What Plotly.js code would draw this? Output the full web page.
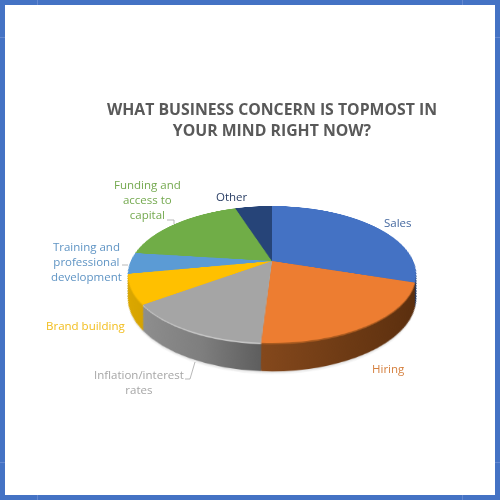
<!DOCTYPE html>
<html>
<head>
<meta charset="utf-8">
<script src="https://cdn.plot.ly/plotly-3.0.1.min.js"></script>
<style>
html,body{margin:0;padding:0;background:#fff;}
#frame{position:absolute;left:0;top:0;width:500px;height:500px;box-sizing:border-box;border:5px solid #4472c4;background:#fff;}
#chart{position:absolute;left:0;top:0;width:500px;height:500px;}
</style>
</head>
<body>
<div id="frame"></div>
<div id="chart"></div>
<script>
const categories = ['Sales','Hiring','Inflation/interest rates','Brand building','Training and professional development','Funding and access to capital','Other'];
const values = [30,21,14,7,5,18,5];
const topColors = ['#4472c4','#ed7d31','#a5a5a5','#ffc000','#5b9bd5','#70ad47','#264478'];
const rimColors = ['#2f5597','#a85a20','#c6c6c6','#e8b000','#5b9bd5','#70ad47','#264478'];
const sideColors = ['#1f3864','#6b3813','#777777','#c99700','#3d6f9e','#4d7a30','#1a2f54'];
const labelText = ['Sales','Hiring','Inflation/interest<br>rates','Brand building','Training and<br>professional<br>development','Funding and<br>access to<br>capital','Other'];
const labelColors = ['#44689f','#d5803f','#a6a6a6','#f2bd1c','#5f94c4','#74a94f','#2c4066'];
const labelX = [398,388,139,85,86,147,232];
const labelY = [223,368,382,325,261,199.5,196];

// pie geometry before the perspective is applied, px
const Cx = 250, Cy = 200, R = 150;
// perspective of the pie plane
const apexX = 272, apexY = 261, a = 141.2, b = 65.8, k = 0.197;
const depth = 0.325, N = 36;

function pie(colors, d, r){
  const cy = Cy + d*R;
  return {
    type:'pie', labels:categories, values:values, sort:false, direction:'clockwise', rotation:0,
    textinfo:'none', hoverinfo:'label+percent', showlegend:false,
    marker:{colors:colors, line:{width:0}},
    domain:{x:[(Cx-r)/500,(Cx+r)/500], y:[1-(cy+r)/500,1-(cy-r)/500]}
  };
}
const traces = [];
for(const sh of [[0.355,'#f5f5f5'],[0.34,'#e6e6e6']]){
  traces.push(pie(categories.map(()=>sh[1]), sh[0], R*(1-k*sh[0])));
}
const shadowCount = traces.length;
for(let i=N;i>=1;i--){
  const d = depth*i/N;
  traces.push(pie(i<=2?rimColors:sideColors, d, R*(1-k*d)));
}
traces.push(pie(topColors, 0, R));

const annotations = categories.map((c,i)=>({
  xref:'paper',yref:'paper',x:labelX[i]/500,y:1-labelY[i]/500,
  text:labelText[i],showarrow:false,xanchor:'center',yanchor:'middle',align:'center',
  font:{family:'Open Sans, sans-serif',size:11.5,color:labelColors[i]}
}));
const leader = [[167,220,174,220],[174,220,174,224],[122,265,128,265],[185,379,190,379],[190,379,195,362]];
for(const l of leader){
  annotations.push({xref:'paper',yref:'paper',x:l[2]/500,y:1-l[3]/500,axref:'pixel',ayref:'pixel',
    ax:l[0]-l[2],ay:l[1]-l[3],showarrow:true,arrowhead:0,arrowwidth:0.8,arrowcolor:'#a6a6a6',standoff:0,startstandoff:0,
    text:' ',font:{size:1},borderpad:0,borderwidth:0});
}

const layout = {
  width:500,height:500,margin:{l:0,r:0,t:0,b:0},
  paper_bgcolor:'rgba(0,0,0,0)',plot_bgcolor:'rgba(0,0,0,0)',
  title:{text:'WHAT BUSINESS CONCERN IS TOPMOST IN<br>YOUR MIND RIGHT NOW?',x:272/500,xanchor:'center',y:1-115/500,yanchor:'middle',
    font:{family:'Open Sans, sans-serif',size:15.8,color:'#595959',weight:700}},
  annotations:annotations
};

// faint marks in the frame
const frame = document.getElementById('frame');
for(const p of [37,462]){
  for(const st of [`left:${p-5}px;top:-5px;width:1px;height:5px`,`left:${p-5}px;bottom:-5px;width:1px;height:5px`,
                   `top:${p-5}px;left:-5px;width:5px;height:1px`,`top:${p-5}px;right:-5px;width:5px;height:1px`]){
    const t=document.createElement('div');t.style.cssText='position:absolute;background:#6488cf;'+st;frame.appendChild(t);
  }
}

Plotly.newPlot('chart',traces,layout,{displayModeBar:false,staticPlot:true}).then(()=>{
  const svg = document.querySelector('#chart svg.main-svg');
  // side shading
  const NS='http://www.w3.org/2000/svg';
  const defs = svg.querySelector('defs') || svg.insertBefore(document.createElementNS(NS,'defs'),svg.firstChild);
  const grads = {1:['#84481c','#6d3a14','#5a2e0e'],2:['#8e8e8e','#7e7e7e','#585858'],3:['#dca800','#c99a00','#b58800']};
  for(const s in grads){
    const g=document.createElementNS(NS,'linearGradient');
    g.setAttribute('id','side'+s);g.setAttribute('x1','0');g.setAttribute('x2','1');g.setAttribute('y1','0');g.setAttribute('y2','0');
    grads[s].forEach((c,i)=>{const st=document.createElementNS(NS,'stop');st.setAttribute('offset',i/2);st.setAttribute('stop-color',c);g.appendChild(st);});
    defs.appendChild(g);
  }
  const layers = svg.querySelectorAll('.pielayer .trace');
  layers.forEach((t,ti)=>{
    if(ti<shadowCount||ti>=layers.length-3) return;
    t.querySelectorAll('.slice').forEach((sl,si)=>{
      if(grads[si]){ const p=sl.querySelector('path'); if(p) p.style.fill='url(#side'+si+')'; }
    });
  });
  // tilt the pie plane; titles and labels sit in the upper svg and stay flat
  const W0 = 1 + k*Cy/R;
  const m = [a/R,0,0,0,
             apexX*(-k/R),apexY*(-k/R)+b/R,0,-k/R,
             0,0,1,0,
             apexX*W0-a*Cx/R,apexY*W0-b*Cy/R,0,W0];
  svg.style.transformOrigin='0 0';
  svg.style.transform='matrix3d('+m.join(',')+')';
});
</script>
</body>
</html>
